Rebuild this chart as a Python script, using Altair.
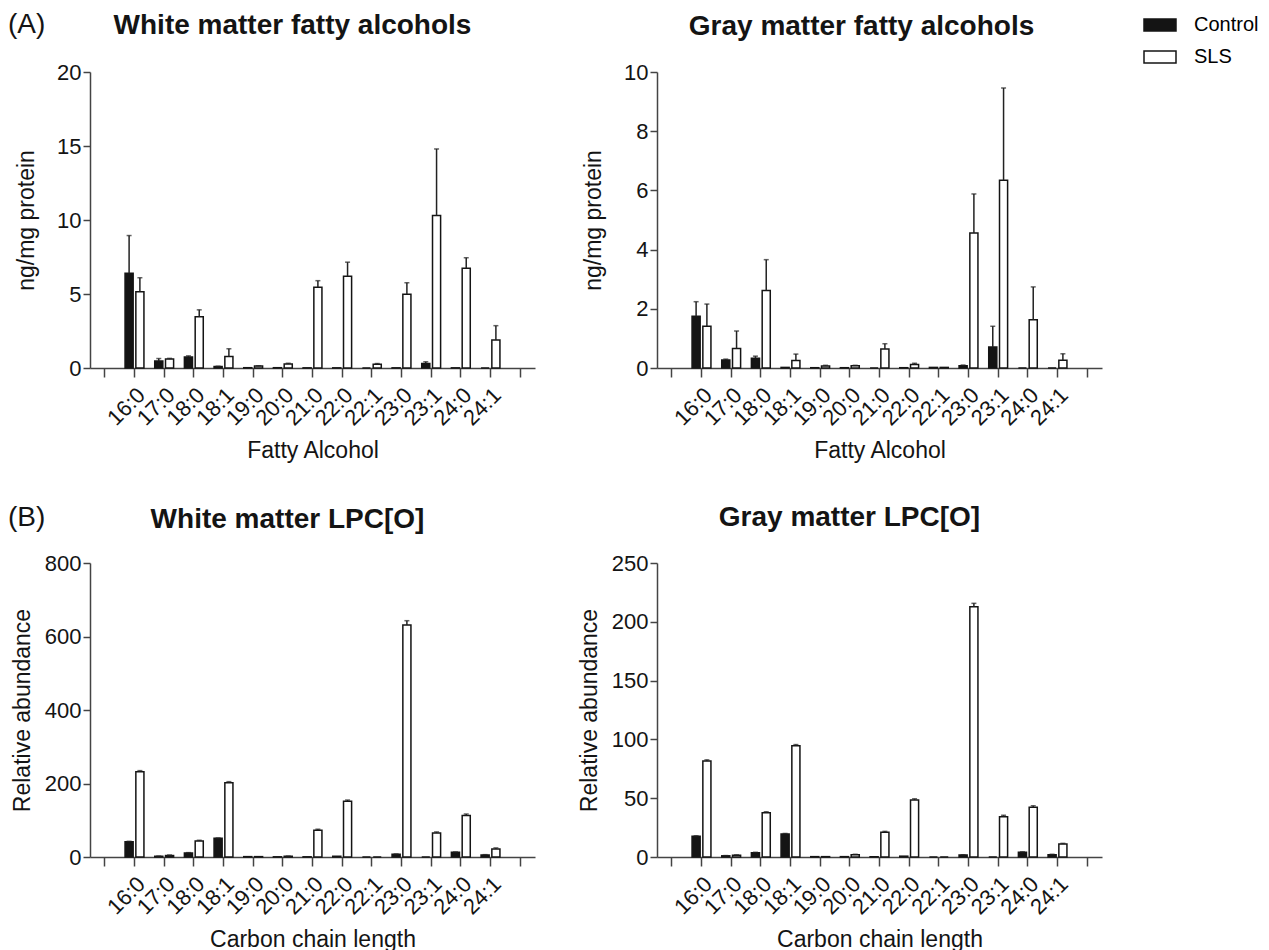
import altair as alt
import pandas as pd

cats = ["16:0", "17:0", "18:0", "18:1", "19:0", "20:0", "21:0",
        "22:0", "22:1", "23:0", "23:1", "24:0", "24:1"]
domain = ["pre"] + cats + ["post"]
groups = ["Control", "SLS"]

# (A) White matter fatty alcohols (ng/mg protein)
wm_fa_ctrl = [6.4, 0.47, 0.74, 0.1, 0.02, 0.02, 0.01, 0.01, 0.0, 0.01, 0.3, 0.01, 0.0]
wm_fa_ctrl_err = [2.55, 0.17, 0.08, 0.02, 0, 0, 0, 0, 0, 0, 0.12, 0, 0]
wm_fa_sls = [5.15, 0.6, 3.46, 0.77, 0.13, 0.27, 5.45, 6.2, 0.25, 4.98, 10.3, 6.74, 1.9]
wm_fa_sls_err = [0.95, 0.05, 0.47, 0.53, 0.02, 0.05, 0.45, 0.95, 0.05, 0.78, 4.5, 0.71, 0.96]

# (A) Gray matter fatty alcohols (ng/mg protein)
gm_fa_ctrl = [1.75, 0.27, 0.33, 0.02, 0.01, 0.01, 0.0, 0.01, 0.02, 0.08, 0.71, 0.0, 0.0]
gm_fa_ctrl_err = [0.49, 0.03, 0.07, 0, 0, 0, 0, 0, 0, 0.02, 0.7, 0, 0]
gm_fa_sls = [1.41, 0.66, 2.62, 0.25, 0.07, 0.08, 0.64, 0.12, 0.02, 4.56, 6.34, 1.63, 0.26]
gm_fa_sls_err = [0.75, 0.59, 1.04, 0.22, 0.02, 0.01, 0.18, 0.04, 0, 1.32, 3.12, 1.11, 0.22]

# (B) White matter LPC[O] (relative abundance)
wm_lpc_ctrl = [41.7, 2, 10.9, 50.8, 1, 0.5, 0.5, 2, 0, 7.3, 0, 12.7, 5.4]
wm_lpc_ctrl_err = [1, 0.5, 1, 1, 0, 0, 0, 0, 0, 1, 0, 1, 1]
wm_lpc_sls = [232, 4, 43.5, 202, 1, 2, 72.6, 152, 0, 631, 65.3, 113, 21.8]
wm_lpc_sls_err = [3, 1.5, 2, 3, 0, 0.5, 3, 3, 0, 12, 3, 4, 3]

# (B) Gray matter LPC[O] (relative abundance)
gm_lpc_ctrl = [17.6, 1, 3.7, 19.6, 0.3, 0.3, 0.2, 0.7, 0, 1.7, 0, 4.0, 2.0]
gm_lpc_ctrl_err = [0.4, 0.2, 0.3, 0.4, 0, 0, 0, 0, 0, 0.2, 0, 0.4, 0.3]
gm_lpc_sls = [81.6, 1.5, 37.7, 94.6, 0.3, 2.0, 21, 48.5, 0, 212.8, 34.3, 42.3, 11]
gm_lpc_sls_err = [1, 0.3, 0.8, 1, 0, 0.3, 0.8, 1, 0, 2.9, 1.2, 1.3, 0.6]

FONT = "Liberation Sans"
W = 445


def make_df(ctrl, ctrl_err, sls, sls_err):
    rows = []
    for c, v, e in zip(cats, ctrl, ctrl_err):
        rows.append({"cat": c, "group": "Control", "value": v, "err": e, "upper": v + e})
    for c, v, e in zip(cats, sls, sls_err):
        rows.append({"cat": c, "group": "SLS", "value": v, "err": e, "upper": v + e})
    return pd.DataFrame(rows)


def panel(df, title, ytitle, xtitle, ymax, ystep, title_dx, title_offset,
          ytitle_pad, height, tag=None, tag_y=-47, legend=False):
    x = alt.X("cat:N",
              scale=alt.Scale(domain=domain, paddingInner=0, paddingOuter=0),
              axis=alt.Axis(title=xtitle, labelAngle=-45,
                            labelExpr="datum.value == 'pre' || datum.value == 'post' ? '' : datum.value",
                            tickSize=9, labelPadding=7, titlePadding=10))
    xo = alt.XOffset("group:N", scale=alt.Scale(domain=groups, paddingInner=0.25, paddingOuter=0.5))
    y = alt.Y("value:Q",
              scale=alt.Scale(domain=[0, ymax], nice=False),
              axis=alt.Axis(title=ytitle, values=list(range(0, ymax + 1, ystep)),
                            tickSize=7, labelPadding=2, titlePadding=ytitle_pad))
    fill = alt.Fill("group:N",
                    scale=alt.Scale(domain=groups, range=["#141414", "#ffffff"]),
                    legend=(alt.Legend(title=None, orient="none", legendX=1053, legendY=-64,
                                       symbolType="M-1,-0.375H1V0.375H-1Z",
                                       symbolSize=1024, symbolStrokeColor="#141414",
                                       symbolStrokeWidth=1.5, labelFontSize=20,
                                       labelFont=FONT, labelOffset=17, rowPadding=5,
                                       padding=0) if legend else None))
    bars = alt.Chart(df).mark_bar(stroke="#141414", strokeWidth=1.5).encode(
        x=x, xOffset=xo, y=y, fill=fill)
    eb = df[df.err > 0]
    rules = alt.Chart(eb).mark_rule(color="#222222", strokeWidth=1.5).encode(
        x=x, xOffset=xo, y="value:Q", y2="upper:Q")
    caps = alt.Chart(eb).mark_tick(color="#222222", thickness=1.5, size=5,
                                   orient="horizontal").encode(
        x=x, xOffset=xo, y="upper:Q")
    layers = [bars, rules, caps]
    if tag is not None:
        tdf = pd.DataFrame({"t": [tag]})
        layers.append(alt.Chart(tdf).mark_text(align="left", baseline="middle",
                                               fontSize=28, font=FONT, color="#141414").encode(
            text="t:N", x=alt.value(-82), y=alt.value(tag_y)))
    return alt.layer(*layers).properties(
        width=W, height=height,
        title=alt.TitleParams(title, fontSize=28, font=FONT, fontWeight="bold",
                              color="#141414", offset=title_offset, dx=title_dx))


p1 = panel(make_df(wm_fa_ctrl, wm_fa_ctrl_err, wm_fa_sls, wm_fa_sls_err),
           "White matter fatty alcohols", "ng/mg protein", "Fatty Alcohol", 20, 5,
           -20, -29, 18, 296, tag="(A)", tag_y=-47, legend=True)
p2 = panel(make_df(gm_fa_ctrl, gm_fa_ctrl_err, gm_fa_sls, gm_fa_sls_err),
           "Gray matter fatty alcohols", "ng/mg protein", "Fatty Alcohol", 10, 2,
           -18, 20, 18, 296)
p3 = panel(make_df(wm_lpc_ctrl, wm_lpc_ctrl_err, wm_lpc_sls, wm_lpc_sls_err),
           "White matter LPC[O]", "Relative abundance", "Carbon chain length", 800, 200,
           -25, -30, 10, 294, tag="(B)", tag_y=-45)
p4 = panel(make_df(gm_lpc_ctrl, gm_lpc_ctrl_err, gm_lpc_sls, gm_lpc_sls_err),
           "Gray matter LPC[O]", "Relative abundance", "Carbon chain length", 250, 50,
           -30, 20, 10, 294)

chart = alt.concat(p1, p2, p3, p4, columns=2,
                   spacing=alt.RowColnumber(row=41, column=43)).properties(
    padding=0
).configure_view(stroke=None).configure_axis(
    grid=False, domainColor="#444444", tickColor="#444444", domainWidth=1.5, tickWidth=1.5,
    labelColor="#141414", titleColor="#141414", labelFont=FONT, titleFont=FONT,
    labelFontSize=22, titleFontSize=23, titleFontWeight="normal"
)

chart.save("out.html", embed_options={"renderer": "svg", "actions": False})
